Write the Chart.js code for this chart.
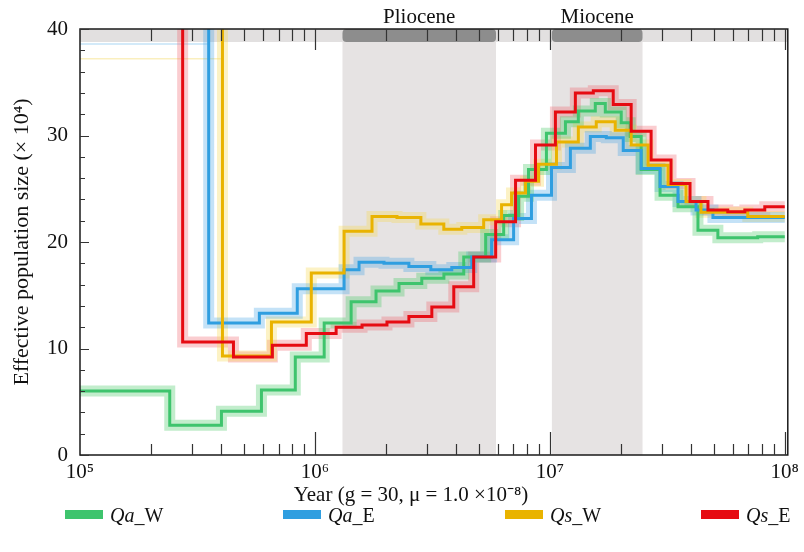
<!DOCTYPE html>
<html>
<head>
<meta charset="utf-8">
<script src="https://cdn.jsdelivr.net/npm/chart.js@4.4.0/dist/chart.umd.min.js"></script>
<style>
  html, body { margin: 0; padding: 0; background: #ffffff; }
  #wrap { width: 804px; height: 552px; }
</style>
</head>
<body>
<div id="wrap"><canvas id="psmc" width="804" height="552"></canvas></div>
<script>
// PSMC step curves: each point is the start (in years) of a step and its Ne (x10^4).
// A value above the axis maximum marks the off-scale most recent step.
const qaW_years = [1.0e5, 2.41e5, 4.0e5, 5.92e5, 8.25e5, 1.095e6, 1.426e6, 1.82e6, 2.28e6, 2.85e6, 3.54e6, 4.30e6, 5.33e6, 6.36e6, 7.36e6, 8.11e6, 9.67e6, 1.165e7, 1.322e7, 1.561e7, 1.722e7, 2.013e7, 2.198e7, 2.447e7, 2.945e7, 3.512e7, 4.27e7, 5.19e7, 7.67e7, 1.0e8];
const qaW_ne    = [6.0, 2.8, 4.1, 6.1, 9.2, 12.4, 14.4, 15.4, 16.1, 16.6, 17.0, 18.6, 20.7, 22.5, 24.3, 26.8, 30.2, 31.3, 32.3, 33.0, 32.2, 31.2, 29.9, 26.8, 24.4, 23.3, 21.1, 20.4, 20.5, 20.5];

const qaE_years = [1.0e5, 3.53e5, 5.80e5, 8.41e5, 1.331e6, 1.541e6, 1.968e6, 2.512e6, 3.114e6, 3.824e6, 4.65e6, 5.65e6, 7.01e6, 8.35e6, 1.016e7, 1.223e7, 1.487e7, 1.739e7, 2.053e7, 2.447e7, 2.945e7, 3.512e7, 4.19e7, 4.945e7, 1.0e8];
const qaE_ne    = [80, 12.4, 13.3, 15.6, 17.4, 18.1, 18.0, 17.7, 17.4, 17.6, 18.6, 20.2, 22.2, 24.4, 27.0, 28.8, 29.9, 29.8, 28.6, 26.9, 25.2, 23.8, 23.0, 22.3, 22.3];

const qsW_years = [1.0e5, 4.04e5, 6.53e5, 9.65e5, 1.331e6, 1.75e6, 2.235e6, 2.825e6, 3.537e6, 4.217e6, 5.228e6, 6.23e6, 6.87e6, 7.88e6, 8.95e6, 1.067e7, 1.322e7, 1.576e7, 1.898e7, 2.219e7, 2.62e7, 3.186e7, 3.798e7, 4.397e7, 6.96e7, 1.0e8];
const qsW_ne    = [80, 9.3, 12.5, 17.1, 21.0, 22.4, 22.3, 21.7, 21.2, 21.35, 22.1, 23.5, 24.6, 25.7, 27.3, 29.4, 30.8, 31.3, 30.5, 29.1, 27.2, 25.4, 23.8, 22.8, 22.4, 22.4];

const qsE_years = [1.0e5, 2.735e5, 4.50e5, 6.59e5, 9.19e5, 1.231e6, 1.587e6, 2.026e6, 2.512e6, 3.145e6, 3.90e6, 4.74e6, 5.88e6, 7.145e6, 8.69e6, 1.056e7, 1.284e7, 1.531e7, 1.861e7, 2.219e7, 2.698e7, 3.28e7, 3.95e7, 4.71e7, 5.72e7, 6.76e7, 8.22e7, 1.0e8];
const qsE_ne    = [80, 10.6, 9.2, 10.3, 11.4, 12.0, 12.2, 12.5, 13.0, 13.9, 15.8, 18.6, 21.9, 25.8, 29.1, 32.2, 34.0, 34.2, 32.9, 30.4, 27.7, 25.5, 23.8, 23.0, 22.85, 23.0, 23.3, 23.3];

// Bootstrap replicates that stay high at the recent end
const qaE_bootHigh_years = [1.0e5, 3.53e5];
const qaE_bootHigh_ne    = [38.6, 38.6];
const qsW_bootHigh_years = [1.0e5, 4.04e5];
const qsW_bootHigh_ne    = [37.2, 37.2];

// Geological epochs (years)
const epochNames = ['Pliocene', 'Miocene'];
const epochStart = [1.31e6, 1.02e7];
const epochEnd   = [5.9e6, 2.48e7];

// Axis ticks
const xTickValues = [1e5, 1e6, 1e7, 1e8];
const yMin = 0, yMax = 40, yStep = 10, yMinorStep = 2;

const FONT = '"Liberation Serif", "Times New Roman", serif';
const SUP = {'0':'⁰','1':'¹','2':'²','3':'³','4':'⁴','5':'⁵','6':'⁶','7':'⁷','8':'⁸','9':'⁹','-':'⁻'};
const pow10Label = v => '10' + String(Math.round(Math.log10(v))).split('').map(c => SUP[c]).join('');
const toPoints = (xs, ys) => xs.map((x, i) => ({ x: x, y: ys[i] }));

const series = [
  { label: 'Qa_W', years: qaW_years, ne: qaW_ne, color: '#3ec46d', band: 'rgba(70,200,100,0.33)' },
  { label: 'Qa_E', years: qaE_years, ne: qaE_ne, color: '#2f9ee0', band: 'rgba(60,160,230,0.30)' },
  { label: 'Qs_W', years: qsW_years, ne: qsW_ne, color: '#e9b300', band: 'rgba(245,215,80,0.33)' },
  { label: 'Qs_E', years: qsE_years, ne: qsE_ne, color: '#e60b12', band: 'rgba(240,90,100,0.30)' }
];

const datasets = [];
// soft uncertainty bands behind each curve
series.forEach(s => datasets.push({
  label: s.label + ' band', data: toPoints(s.years, s.ne),
  borderColor: s.band, borderWidth: 11, stepped: true, pointRadius: 0,
  borderJoinStyle: 'miter', borderCapStyle: 'butt', clip: 0, order: 10, isMain: false
}));
datasets.push({
  label: 'Qa_E replicate', data: toPoints(qaE_bootHigh_years, qaE_bootHigh_ne),
  borderColor: 'rgba(60,160,230,0.30)', borderWidth: 1.5, stepped: true, pointRadius: 0, clip: 0, order: 12, isMain: false
});
datasets.push({
  label: 'Qs_W replicate', data: toPoints(qsW_bootHigh_years, qsW_bootHigh_ne),
  borderColor: 'rgba(240,210,70,0.35)', borderWidth: 1.5, stepped: true, pointRadius: 0, clip: 0, order: 12, isMain: false
});
// main curves, red drawn last (on top)
series.forEach((s, i) => datasets.push({
  label: s.label, data: toPoints(s.years, s.ne),
  borderColor: s.color, borderWidth: 3, stepped: true, pointRadius: 0,
  borderJoinStyle: 'miter', borderCapStyle: 'butt', clip: 0, order: 4 - i, isMain: true
}));

const STRIP = 13;      // height of the time-scale strip along the top
const legendX = [65, 283, 505, 701];

const framePlugin = {
  id: 'frame',
  beforeDatasetsDraw(chart) {
    const { ctx, chartArea: a, scales: { x } } = chart;
    ctx.save();
    // epoch columns
    ctx.fillStyle = '#e6e3e3';
    epochNames.forEach((n, i) => {
      const x0 = x.getPixelForValue(epochStart[i]), x1 = x.getPixelForValue(epochEnd[i]);
      ctx.fillRect(x0, a.top, x1 - x0, a.bottom - a.top);
    });
    // time-scale strip
    ctx.fillStyle = '#e2e0e0';
    ctx.fillRect(a.left, a.top, a.right - a.left, STRIP);
    ctx.fillStyle = '#8d8d8d';
    epochNames.forEach((n, i) => {
      const x0 = x.getPixelForValue(epochStart[i]), x1 = x.getPixelForValue(epochEnd[i]);
      ctx.beginPath();
      ctx.roundRect(x0, a.top, x1 - x0, STRIP, 4);
      ctx.fill();
    });
    ctx.fillStyle = '#111';
    ctx.font = '21px ' + FONT;
    ctx.textAlign = 'center';
    ctx.textBaseline = 'alphabetic';
    epochNames.forEach((n, i) => {
      const x0 = x.getPixelForValue(epochStart[i]), x1 = x.getPixelForValue(epochEnd[i]);
      ctx.fillText(n, (x0 + x1) / 2, a.top - 6);
    });
    ctx.restore();
  },
  afterDatasetsDraw(chart) {
    const { ctx, chartArea: a, scales: { x, y } } = chart;
    ctx.save();
    ctx.strokeStyle = '#1a1a1a';
    ctx.lineWidth = 1.5;
    ctx.beginPath();
    ctx.rect(a.left, a.top, a.right - a.left, a.bottom - a.top);
    ctx.stroke();
    ctx.lineWidth = 1.2;
    ctx.strokeStyle = '#333';
    ctx.beginPath();
    // log ticks on the x axis, pointing inwards (bottom) and into the strip (top)
    for (let k = 5; k < 8; k++) {
      for (let m = 1; m <= 9; m++) {
        const v = m * Math.pow(10, k);
        if (v <= x.min) continue;
        const px = Math.round(x.getPixelForValue(v)) + 0.5;
        const major = (m === 1);
        ctx.moveTo(px, a.bottom); ctx.lineTo(px, a.bottom - (major ? 23 : 11));
        ctx.moveTo(px, a.top); ctx.lineTo(px, a.top + (major ? 21 : 12));
      }
    }
    const p8 = Math.round(x.getPixelForValue(1e8)) + 0.5;
    ctx.moveTo(p8, a.bottom); ctx.lineTo(p8, a.bottom - 23);
    ctx.moveTo(p8, a.top); ctx.lineTo(p8, a.top + 21);
    // y ticks, pointing inwards
    for (let v = yMin; v <= yMax; v += yMinorStep) {
      const py = Math.round(y.getPixelForValue(v)) + 0.5;
      const len = (v % yStep === 0) ? 9 : 5;
      ctx.moveTo(a.left, py); ctx.lineTo(a.left + len, py);
    }
    ctx.stroke();
    ctx.restore();
  },
  afterDraw(chart) {
    const { ctx } = chart;
    ctx.save();
    // x-axis title
    ctx.fillStyle = '#111';
    ctx.font = '21px ' + FONT;
    ctx.textAlign = 'center';
    ctx.textBaseline = 'alphabetic';
    ctx.fillText('Year (g = 30, μ = 1.0 ×10⁻⁸)', 411, 501);
    // legend
    const mains = chart.data.datasets.filter(d => d.isMain);
    mains.forEach((d, i) => {
      const lx = legendX[i];
      ctx.fillStyle = d.borderColor;
      ctx.fillRect(lx, 510, 38, 9);
      const parts = d.label.split('_');
      ctx.fillStyle = '#111';
      ctx.textAlign = 'left';
      ctx.font = 'italic 20px ' + FONT;
      ctx.fillText(parts[0], lx + 45, 522);
      const w = ctx.measureText(parts[0]).width;
      ctx.font = '20px ' + FONT;
      ctx.fillText('_' + parts[1], lx + 45 + w, 522);
    });
    ctx.restore();
  }
};

new Chart(document.getElementById('psmc'), {
  type: 'line',
  data: { datasets: datasets },
  options: {
    responsive: false,
    animation: false,
    devicePixelRatio: 1,
    layout: { padding: { top: 29, right: 14, left: 0, bottom: 0 } },
    plugins: { legend: { display: false }, tooltip: { enabled: false } },
    scales: {
      x: {
        type: 'logarithmic',
        min: 1e5,
        max: 1.03e8,
        grid: { display: false, drawTicks: false },
        border: { display: false },
        afterBuildTicks: s => { s.ticks = xTickValues.map(v => ({ value: v })); },
        afterFit: s => { s.height = 97; },
        ticks: {
          autoSkip: false, maxRotation: 0, padding: 5, color: '#111',
          font: { family: FONT, size: 21 },
          callback: v => pow10Label(v)
        }
      },
      y: {
        type: 'linear',
        min: yMin,
        max: yMax,
        grid: { display: false, drawTicks: false },
        border: { display: false },
        afterFit: s => { s.width = 80; },
        ticks: { stepSize: yStep, padding: 12, color: '#111', font: { family: FONT, size: 21 } },
        title: {
          display: true,
          text: 'Effective population size (× 10⁴)',
          color: '#111',
          font: { family: FONT, size: 22 },
          padding: { top: 9, bottom: 0 }
        }
      }
    }
  },
  plugins: [framePlugin]
});
</script>
</body>
</html>
